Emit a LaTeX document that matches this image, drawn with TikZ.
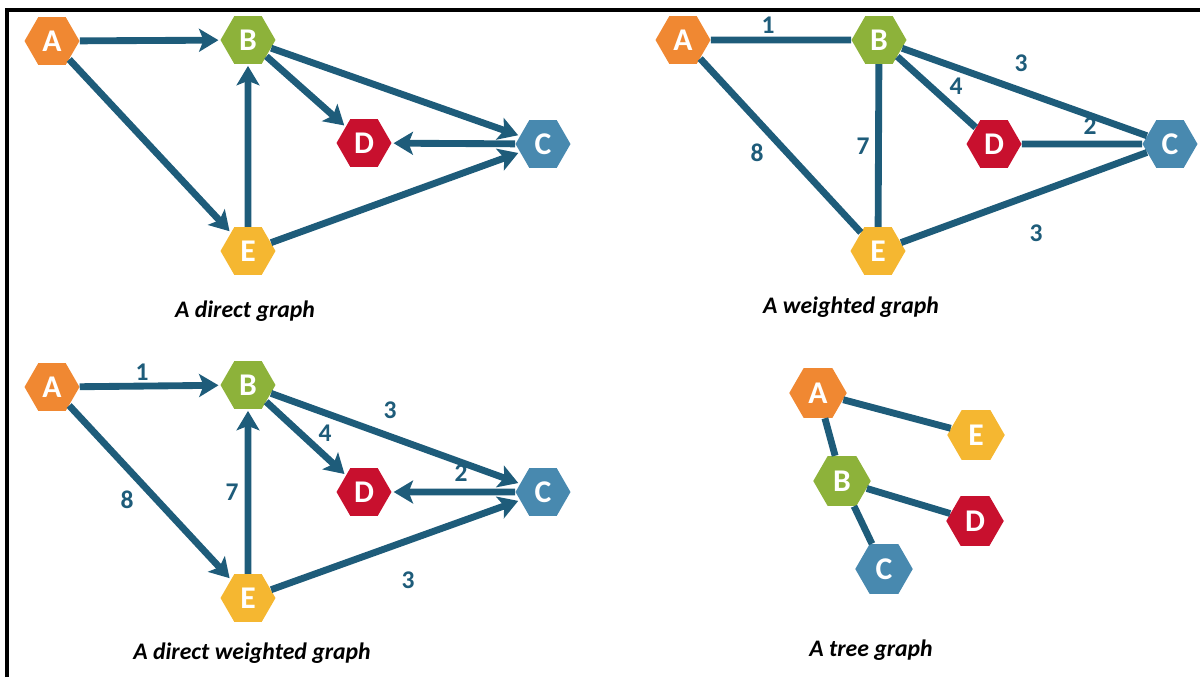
\documentclass[tikz,border=0pt]{standalone}
\usepackage{fontspec}
\setmainfont{Carlito}
\usetikzlibrary{shapes.geometric,arrows.meta}
\definecolor{edgec}{RGB}{30,92,122}
\definecolor{cA}{RGB}{240,136,50}
\definecolor{cB}{RGB}{141,178,58}
\definecolor{cC}{RGB}{72,137,175}
\definecolor{cD}{RGB}{200,16,46}
\definecolor{cE}{RGB}{245,183,49}
\begin{document}
\begin{tikzpicture}[x=0.02cm,y=-0.02cm,
  hexa/.style={regular polygon, regular polygon sides=6, minimum size=1.1cm, inner sep=0pt, text=white, font=\bfseries\fontsize{18}{18}\selectfont},
  bighexa/.style={hexa, minimum size=1.15cm},
  link/.style={draw=edgec, line width=3.9pt},
  arr/.style={link, -{Stealth[length=11pt,width=13pt,inset=2.5pt]}, shorten >=1pt},
  wlabel/.style={text=edgec, font=\bfseries\fontsize{14.5}{14.5}\selectfont, inner sep=0pt},
  caption/.style={font=\bfseries\itshape\fontsize{13.5}{13.5}\selectfont, inner sep=0pt}
]
\useasboundingbox (0,0) rectangle (1200,677);
\draw[line width=2.2pt] (7,677) -- (7,10) -- (1200,10);

% ---------- Graph 1: direct graph ----------
\node[hexa, fill=cA] (A1) at (52,41) {A};
\node[hexa, fill=cB] (B1) at (248,40) {B};
\node[hexa, fill=cD] (D1) at (364,143) {D};
\node[hexa, fill=cC] (C1) at (543,144) {C};
\node[hexa, fill=cE] (E1) at (248,251) {E};
\draw[arr] (A1) -- (B1);
\draw[arr] (A1) -- (E1);
\draw[arr] (B1) -- (D1);
\draw[arr] (B1) -- (C1);
\draw[arr] (C1) -- (D1);
\draw[arr] (E1) -- (B1);
\draw[arr] (E1) -- (C1);
\node[caption] (cap1) at (245,311) {A direct graph};

% ---------- Graph 2: weighted graph ----------
\node[hexa, fill=cA] (A2) at (683,40) {A};
\node[hexa, fill=cB] (B2) at (879,40) {B};
\node[hexa, fill=cD] (D2) at (994,144) {D};
\node[hexa, fill=cC] (C2) at (1170,144) {C};
\node[hexa, fill=cE] (E2) at (878,251) {E};
\draw[link] (A2) -- (B2);
\draw[link] (A2) -- (E2);
\draw[link] (B2) -- (E2);
\draw[link] (B2) -- (D2);
\draw[link] (B2) -- (C2);
\draw[link] (D2) -- (C2);
\draw[link] (E2) -- (C2);
\node[wlabel] (w21) at (768,25) {1};
\node[wlabel] (w22) at (1021,63) {3};
\node[wlabel] (w23) at (956,86) {4};
\node[wlabel] (w24) at (1090,126) {2};
\node[wlabel] (w25) at (757,153) {8};
\node[wlabel] (w26) at (863,146) {7};
\node[wlabel] (w27) at (1036,233) {3};
\node[caption] (cap2) at (851,307) {A weighted graph};

% ---------- Graph 3: direct weighted graph ----------
\node[hexa, fill=cA] (A3) at (52,387) {A};
\node[hexa, fill=cB] (B3) at (248,385) {B};
\node[hexa, fill=cD] (D3) at (364,492) {D};
\node[hexa, fill=cC] (C3) at (543,492) {C};
\node[hexa, fill=cE] (E3) at (248,598) {E};
\draw[arr] (A3) -- (B3);
\draw[arr] (A3) -- (E3);
\draw[arr] (B3) -- (D3);
\draw[arr] (B3) -- (C3);
\draw[arr] (C3) -- (D3);
\draw[arr] (E3) -- (B3);
\draw[arr] (E3) -- (C3);
\node[wlabel] (w31) at (142,372) {1};
\node[wlabel] (w32) at (390,410) {3};
\node[wlabel] (w33) at (325,433) {4};
\node[wlabel] (w34) at (461,473) {2};
\node[wlabel] (w35) at (127,500) {8};
\node[wlabel] (w36) at (232,492) {7};
\node[wlabel] (w37) at (408,580) {3};
\node[caption] (cap3) at (252,653) {A direct weighted graph};

% ---------- Graph 4: tree graph ----------
\node[bighexa, fill=cA] (A4) at (818,393) {A};
\node[bighexa, fill=cE] (E4) at (976,435) {E};
\node[bighexa, fill=cB] (B4) at (842,481) {B};
\node[bighexa, fill=cD] (D4) at (975,521) {D};
\node[bighexa, fill=cC] (C4) at (884,569) {C};
\draw[link] (A4) -- (E4);
\draw[link] (A4) -- (B4);
\draw[link] (B4) -- (D4);
\draw[link] (B4) -- (C4);
\node[caption] (cap4) at (871,650) {A tree graph};
\end{tikzpicture}
\end{document}
